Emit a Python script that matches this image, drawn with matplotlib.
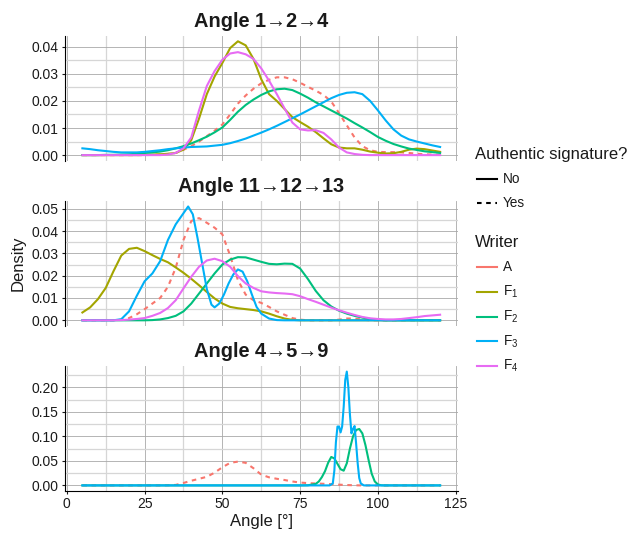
import numpy as np
import matplotlib
matplotlib.use("Agg")
import matplotlib.pyplot as plt
from matplotlib.ticker import MultipleLocator, FormatStrFormatter

plt.rcParams['font.family'] = ['Liberation Sans', 'DejaVu Sans']
plt.rcParams['mathtext.fontset'] = 'custom'
plt.rcParams['mathtext.rm'] = 'Liberation Sans'
plt.rcParams['mathtext.it'] = 'Liberation Sans:italic'

# writers and colours (ggplot hue palette)
writers = ['A', 'F1', 'F2', 'F3', 'F4']
writer_labels = ['A', r'F$_1$', r'F$_2$', r'F$_3$', r'F$_4$']
colors = ['#F8766D', '#A3A500', '#00BF7D', '#00B0F6', '#E76BF3']
authentic = {'A': True, 'F1': False, 'F2': False, 'F3': False, 'F4': False}

titles = ['Angle 1\u21922\u21924', 'Angle 11\u219212\u219213', 'Angle 4\u21925\u21929']
y_steps = [0.01, 0.01, 0.05]

# common angle grid for most curves: 5, 7.5, ..., 120
x_grid = np.arange(5, 120.01, 2.5)

# ---- Angle 1-2-4 ----
p1_A = [0, 0, 0, 0, 0, 0, 0, 0, 0, 0.0001, 0.0002, 0.0004, 0.0008, 0.002, 0.0033,
        0.005, 0.007, 0.009, 0.0113, 0.015, 0.019, 0.022, 0.0245, 0.0265, 0.0278,
        0.0287, 0.0287, 0.028, 0.0267, 0.0252, 0.0238, 0.0222, 0.0198, 0.0155, 0.011,
        0.0065, 0.0033, 0.0018, 0.0012, 0.0011, 0.0011, 0.001, 0.0008, 0.0005, 0.0003,
        0.0002, 0.0001]
p1_F1 = [0, 0, 0, 0, 0, 0, 0, 0, 0.0001, 0.0002, 0.0003, 0.0005, 0.0008, 0.002, 0.0055,
         0.0135, 0.0225, 0.029, 0.034, 0.0395, 0.042, 0.0405, 0.0355, 0.028, 0.0225,
         0.020, 0.017, 0.014, 0.0122, 0.0105, 0.0085, 0.0062, 0.004, 0.0028, 0.0025,
         0.0025, 0.002, 0.0013, 0.0009, 0.0006, 0.0007, 0.0012, 0.002, 0.0024, 0.0022,
         0.0017, 0.0012]
p1_F2 = [0, 0, 0, 0.0001, 0.0001, 0.0002, 0.0003, 0.0005, 0.0008, 0.001, 0.0013, 0.0018,
         0.0025, 0.0033, 0.0043, 0.0055, 0.0068, 0.0084, 0.0102, 0.013, 0.016, 0.0185,
         0.0205, 0.0222, 0.0235, 0.0243, 0.0245, 0.024, 0.0227, 0.0212, 0.0195, 0.018,
         0.0165, 0.015, 0.0135, 0.0118, 0.0102, 0.0085, 0.0067, 0.0053, 0.0041, 0.0032,
         0.0024, 0.0019, 0.0014, 0.0011, 0.0008]
p1_F3 = [0.0025, 0.0022, 0.0018, 0.0015, 0.0012, 0.001, 0.001, 0.001, 0.0012, 0.0015,
         0.0018, 0.0022, 0.0025, 0.0028, 0.003, 0.0031, 0.0032, 0.0035, 0.0038, 0.0044,
         0.0052, 0.0061, 0.0072, 0.0083, 0.0095, 0.0108, 0.0122, 0.0136, 0.015, 0.0165,
         0.018, 0.0195, 0.021, 0.0222, 0.023, 0.0232, 0.0225, 0.02, 0.0165, 0.0128,
         0.0095, 0.0072, 0.0058, 0.005, 0.0043, 0.0036, 0.003]
p1_F4 = [0, 0, 0, 0, 0, 0, 0, 0, 0, 0, 0, 0.0002, 0.0008, 0.0025, 0.0065, 0.0165, 0.0255,
         0.031, 0.0352, 0.0375, 0.038, 0.0372, 0.0355, 0.032, 0.0275, 0.0225, 0.0172,
         0.012, 0.0095, 0.0091, 0.0092, 0.0082, 0.0058, 0.0028, 0.001, 0.0004, 0.0001,
         0, 0, 0, 0, 0, 0, 0, 0, 0, 0]

# ---- Angle 11-12-13 ----
p2_A = [0, 0, 0, 0, 0, 0.0002, 0.001, 0.0027, 0.005, 0.0075, 0.01, 0.015, 0.0235, 0.036,
        0.0445, 0.0458, 0.0437, 0.0415, 0.0385, 0.029, 0.018, 0.0115, 0.009, 0.0078,
        0.006, 0.004, 0.0025, 0.001, 0.0003, 0, 0, 0, 0, 0.0003, 0.0008, 0.0008, 0.0003,
        0, 0, 0, 0, 0, 0, 0, 0, 0, 0]
p2_F1 = [0.0035, 0.0058, 0.0095, 0.0145, 0.022, 0.029, 0.032, 0.0325, 0.031, 0.0292,
         0.0275, 0.026, 0.0237, 0.0213, 0.0186, 0.0157, 0.0127, 0.0098, 0.0075, 0.006,
         0.0054, 0.005, 0.0046, 0.004, 0.003, 0.0018, 0.0008, 0.0002,
         0, 0, 0, 0, 0, 0, 0, 0, 0, 0, 0, 0, 0, 0, 0, 0, 0, 0, 0]
p2_F2 = [0, 0, 0, 0, 0, 0, 0, 0, 0, 0.0001, 0.0004, 0.001, 0.002, 0.004, 0.0075, 0.012,
         0.0165, 0.021, 0.025, 0.0272, 0.0283, 0.0282, 0.0272, 0.0262, 0.0253, 0.0251,
         0.0254, 0.0253, 0.0232, 0.0185, 0.0132, 0.009, 0.0062, 0.0043, 0.003, 0.002,
         0.0012, 0.0006, 0.0002, 0, 0, 0, 0, 0, 0, 0, 0]
p2_F3_x = [5, 15, 17.5, 20, 22.5, 25, 27.5, 30, 32.5, 35, 37.5, 39, 40.5, 42, 43.5, 45,
           46.5, 47.5, 49, 50.5, 52, 53.5, 55, 56.5, 58, 59.5, 61, 62.5, 65, 67.5, 70, 120]
p2_F3 = [0, 0, 0.0005, 0.004, 0.011, 0.0175, 0.021, 0.0265, 0.036, 0.043, 0.048, 0.051,
         0.0475, 0.037, 0.0255, 0.014, 0.007, 0.0058, 0.0075, 0.0115, 0.0165, 0.0205,
         0.0228, 0.0218, 0.0175, 0.0115, 0.006, 0.003, 0.0008, 0.0001, 0, 0]
p2_F4 = [0, 0, 0, 0, 0, 0.0001, 0.0003, 0.0006, 0.001, 0.002, 0.0033, 0.0055, 0.009,
         0.0143, 0.0195, 0.024, 0.0268, 0.0276, 0.0265, 0.024, 0.0198, 0.0165, 0.0145,
         0.013, 0.0125, 0.0122, 0.012, 0.0117, 0.0108, 0.0095, 0.0083, 0.007, 0.0057,
         0.0045, 0.0034, 0.0024, 0.0015, 0.0009, 0.0006, 0.0004, 0.0004, 0.0006, 0.001,
         0.0014, 0.0019, 0.0022, 0.0025]

# ---- Angle 4-5-9 ----
p3_A = [0, 0, 0, 0, 0, 0, 0, 0, 0, 0, 0, 0.0003, 0.001, 0.005, 0.0095, 0.0135, 0.0175,
        0.026, 0.037, 0.046, 0.0485, 0.046, 0.035, 0.022, 0.0165, 0.0135, 0.011, 0.008,
        0.0058, 0.0047, 0.004, 0.0033, 0.0025, 0.0015, 0.0008, 0.0002,
        0, 0, 0, 0, 0, 0, 0, 0, 0, 0, 0]
p3_F2_x = [5, 75, 77.5, 80, 81, 82, 83, 84, 85, 86, 87, 88, 89, 90, 91, 92, 93, 94, 95,
           96, 97, 98, 99, 100, 101, 102, 120]
p3_F2 = [0, 0, 0.0003, 0.003, 0.008, 0.017, 0.029, 0.046, 0.058, 0.055, 0.044, 0.033,
         0.030, 0.045, 0.075, 0.1, 0.113, 0.115, 0.106, 0.082, 0.052, 0.024, 0.008, 0.002,
         0.0003, 0, 0]
p3_F3_x = [5, 84.5, 85.5, 86, 86.5, 87, 87.5, 88, 88.5, 89, 89.5, 90, 90.5, 91, 91.5, 92,
           92.5, 93, 93.5, 94, 94.5, 95.5, 120]
p3_F3 = [0, 0, 0.004, 0.03, 0.088, 0.12, 0.12, 0.108, 0.12, 0.16, 0.215, 0.232, 0.2,
         0.145, 0.106, 0.115, 0.121, 0.085, 0.045, 0.015, 0.004, 0, 0]

panels = [
    {'A': (x_grid, p1_A), 'F1': (x_grid, p1_F1), 'F2': (x_grid, p1_F2),
     'F3': (x_grid, p1_F3), 'F4': (x_grid, p1_F4)},
    {'A': (x_grid, p2_A), 'F1': (x_grid, p2_F1), 'F2': (x_grid, p2_F2),
     'F3': (p2_F3_x, p2_F3), 'F4': (x_grid, p2_F4)},
    {'A': (x_grid, p3_A), 'F2': (p3_F2_x, p3_F2), 'F3': (p3_F3_x, p3_F3)},
]

W, H = 633, 534
fig = plt.figure(figsize=(W / 100, H / 100), dpi=100)
fig.patch.set_facecolor('white')

left_px, width_px, height_px = 64.5, 393.5, 125.2
tops_px = [35.6, 200.8, 365.9]
text_col = '#1a1a1a'
lw = 1.5
dash = (0, (2.2, 2.2))

axes = []
for i, data in enumerate(panels):
    top = tops_px[i]
    ax = fig.add_axes([left_px / W, 1 - (top + height_px) / H, width_px / W, height_px / H])
    axes.append(ax)

    for w, col in zip(writers, colors):
        if w not in data:
            continue
        xs, ys = data[w]
        ls = dash if authentic[w] else '-'
        ax.plot(xs, ys, color=col, lw=lw, ls=ls, zorder=3,
                solid_joinstyle='round', dash_joinstyle='round')

    ymax = max(max(v[1]) for v in data.values())
    ax.set_ylim(-0.05 * ymax, 1.05 * ymax)
    ax.set_xlim(-0.75, 125.75)

    ax.xaxis.set_major_locator(MultipleLocator(25))
    ax.xaxis.set_minor_locator(MultipleLocator(12.5))
    ax.yaxis.set_major_locator(MultipleLocator(y_steps[i]))
    ax.yaxis.set_minor_locator(MultipleLocator(y_steps[i] / 2))
    ax.yaxis.set_major_formatter(FormatStrFormatter('%.2f'))

    ax.grid(which='major', color='#a8a8a8', lw=0.6)
    ax.grid(which='minor', color='#d6d6d6', lw=0.9)
    ax.set_axisbelow(True)

    for s in ['top', 'right']:
        ax.spines[s].set_visible(False)
    ax.spines['left'].set_color('black')
    ax.spines['left'].set_linewidth(0.8)
    ax.tick_params(axis='y', which='major', length=2.2, width=0.8, pad=2,
                   labelsize=10, colors=text_col)
    ax.tick_params(axis='both', which='minor', length=0)

    if i < 2:
        ax.spines['bottom'].set_visible(False)
        ax.tick_params(axis='x', which='major', bottom=False, labelbottom=False)
    else:
        ax.spines['bottom'].set_color('black')
        ax.spines['bottom'].set_linewidth(0.8)
        ax.tick_params(axis='x', which='major', length=2.2, width=0.8, pad=2,
                       labelsize=10, colors=text_col)
        ax.set_xlabel('Angle [\u00b0]', fontsize=12, color=text_col, labelpad=2)

    ax.set_title(titles[i], fontsize=14.4, fontweight='bold', color=text_col, pad=6.4)

fig.text(18 / W, 1 - 263 / H, 'Density', rotation=90, ha='center', va='center',
         fontsize=12, color=text_col)

# legends, drawn in an axes whose data units are figure pixels
lax = fig.add_axes([460 / W, 1 - 390 / H, 173 / W, 260 / H])
lax.set_xlim(460, 633)
lax.set_ylim(390, 130)
lax.axis('off')

lax.text(475, 155, 'Authentic signature?', fontsize=12, va='center', color=text_col)
for lab, ls, yy in [('No', '-', 179), ('Yes', dash, 203.5)]:
    lax.plot([477, 497], [yy, yy], color='black', lw=lw, ls=ls)
    lax.text(503, yy, lab, fontsize=9.8, va='center', color=text_col)

lax.text(475, 243, 'Writer', fontsize=12, va='center', color=text_col)
for k, (lab, col) in enumerate(zip(writer_labels, colors)):
    yy = 267 + 24.8 * k
    lax.plot([477, 497], [yy, yy], color=col, lw=lw)
    lax.text(503, yy, lab, fontsize=9.8, va='center', color=text_col)

fig.savefig('out.png', dpi=100, facecolor='white')
